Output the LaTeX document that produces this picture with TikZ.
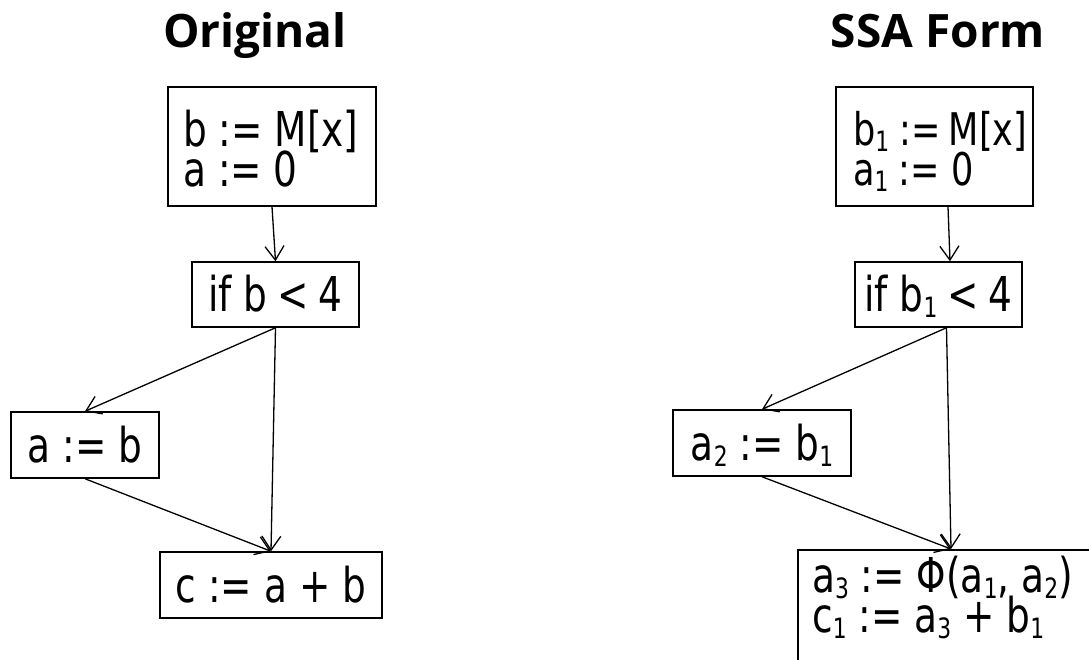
\documentclass[tikz,border=0pt]{standalone}
\usepackage{fontspec}
\usetikzlibrary{arrows.meta,calc}
\newfontfamily\boxfont[FakeStretch=0.78]{DejaVu Sans}
\newfontfamily\titlefont{Open Sans}
\newcommand{\subs}[1]{\raisebox{-6pt}{\fontsize{28}{28}\selectfont #1}}
\begin{document}
\begin{tikzpicture}[x=1pt,y=-1pt,
  box/.style={draw=black, line width=1.5pt, rectangle, inner sep=0pt,
    text height=34pt, text depth=0pt},
  lf/.style={font=\boxfont\fontsize{48}{40}\selectfont},
  sf/.style={font=\boxfont\fontsize{45}{40}\selectfont},
  txt/.style={inner sep=0pt, text height=34pt, text depth=4pt},
  ttl/.style={inner sep=0pt, anchor=base, font=\titlefont\bfseries\fontsize{46}{46}\selectfont},
  flow/.style={line width=1.3pt, -{Straight Barb[length=14pt,width=19pt,line width=1.3pt]}}]
\useasboundingbox (0,0) rectangle (1089,660);
\clip (0,0) rectangle (1089,660);
% titles
\node[ttl] (t1) at (255,48) {Original};
\node[ttl] (t2) at (938,48) {SSA Form};
% left graph
\node[box, minimum width=208pt, minimum height=119pt] (L1) at (272,146.5) {};
\node[txt, lf, anchor=base west] (L1a) at (183,147) {b := M[x]};
\node[txt, lf, anchor=base west] (L1b) at (183,187) {a := 0};
\node[box, lf, minimum width=167pt, minimum height=65pt] (L2) at (275.5,294.5) {if b\kern-2pt{} <\kern-2pt{} 4};
\node[box, lf, minimum width=148pt, minimum height=66pt] (L3) at (85,445) {a := b};
\node[box, lf, minimum width=222pt, minimum height=66pt] (L4) at (271,585) {c := a + b};
\draw[flow] (L1.south) -- (L2.north);
\draw[flow] (L2.south) -- (L3.north);
\draw[flow] (L2.south) -- (L4.north);
\draw[flow] (L3.south) -- (L4.north);
% right graph
\node[box, minimum width=197pt, minimum height=119pt] (R1) at (934.5,146.5) {};
\node[txt, sf, anchor=base west] (R1a) at (853,146) {b\subs{1}\kern-1pt{} :=\kern-3pt{} M[x]};
\node[txt, sf, anchor=base west] (R1b) at (853,186) {a\subs{1}\kern-1pt{} := 0};
\node[box, lf, minimum width=167pt, minimum height=65pt] (R2) at (938.5,294.5) {if b\subs{1}\kern-2pt{} <\kern-2pt{} 4};
\node[box, lf, minimum width=178pt, minimum height=66pt] (R3) at (762,443) {a\subs{2} := b\subs{1}};
\node[box, anchor=north west, minimum width=320pt, minimum height=130pt] (R4) at (797,549) {};
\node[txt, lf, anchor=base west] (R4a) at (812,592) {a\subs{3} := Φ(a\subs{1}, a\subs{2})};
\node[txt, lf, anchor=base west] (R4b) at (812,632) {c\subs{1} := a\subs{3} + b\subs{1}};
\coordinate (R1o) at ($(R1.south)+(13.5,0)$);
\coordinate (R2i) at ($(R2.north)+(11.5,0)$);
\coordinate (R2o) at ($(R2.south)+(8,0)$);
\coordinate (R4i) at (951,549);
\draw[flow] (R1o) -- (R2i);
\draw[flow] (R2o) -- (R3.north);
\draw[flow] (R2o) -- (R4i);
\draw[flow] (R3.south) -- (R4i);
\end{tikzpicture}
\end{document}
